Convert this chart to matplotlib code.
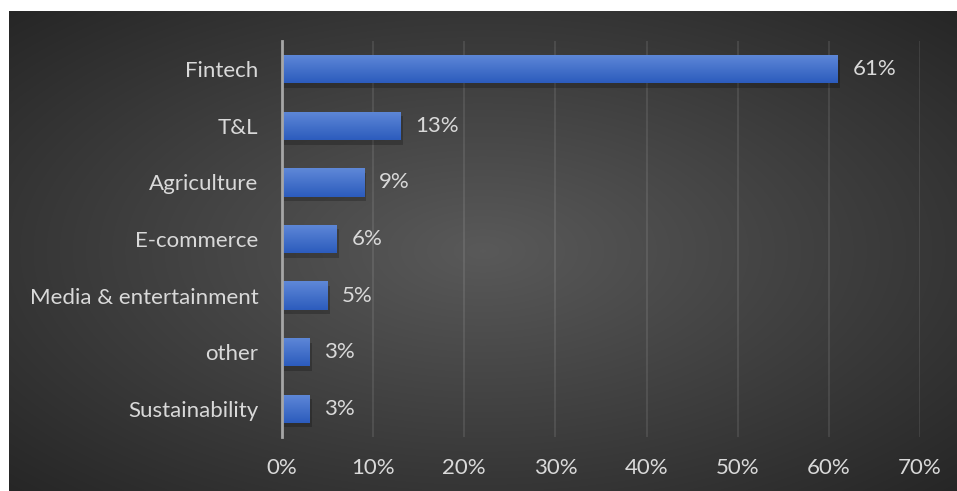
import numpy as np
import matplotlib.pyplot as plt
from matplotlib.patches import Rectangle

sectors = ['Fintech', 'T&L', 'Agriculture', 'E-commerce',
           'Media & entertainment', 'other', 'Sustainability']
shares = [61, 13, 9, 6, 5, 3, 3]
xticks = [0, 10, 20, 30, 40, 50, 60, 70]

plt.rcParams['font.family'] = ['Lato', 'DejaVu Sans']
txt = '#d9d9d9'
fs = 16

fig = plt.figure(figsize=(9.57, 4.91), dpi=100)
fig.patch.set_facecolor('white')

# dark radial backdrop
bg = fig.add_axes([9/957, 0, 948/957, 480/491])
yy, xx = np.mgrid[-1:1:300j, -1:1:600j]
r = np.sqrt(xx**2 + yy**2) / np.sqrt(2)
shade = 0.35 - 0.20 * r
bg.imshow(np.dstack([shade, shade, shade]), aspect='auto',
          extent=[0, 1, 0, 1], interpolation='bicubic')
bg.set_axis_off()

ax = fig.add_axes([282/957, 54/491, 638/957, 396/491])
ax.set_facecolor('none')
n = len(sectors)
ypos = np.arange(n)[::-1]
h = 0.5

# bar gradient: lighter top, darker bottom
grad = np.linspace(0, 1, 50).reshape(-1, 1)
top = np.array([0x5f, 0x88, 0xd8]) / 255
bot = np.array([0x2c, 0x5c, 0xbd]) / 255
gimg = (bot + (top - bot) * grad)[:, None, :].repeat(2, axis=1)

for y, v in zip(ypos, shares):
    # soft shadow
    ax.add_patch(Rectangle((0.25, y - h/2 - 0.08), v, h, color='black',
                           alpha=0.22, lw=0, zorder=2))
    rect = Rectangle((0, y - h/2), v, h, facecolor='none', lw=0, zorder=3)
    ax.add_patch(rect)
    im = ax.imshow(gimg, extent=[0, v, y - h/2, y + h/2], origin='lower',
                   aspect='auto', zorder=3, interpolation='bilinear')
    im.set_clip_path(rect)
    ax.text(v + 1.6, y, f'{v}%', va='center', ha='left', color=txt,
            fontsize=fs)

ax.set_aspect('auto')
ax.set_xlim(0, 70)
ax.set_ylim(-0.5, n - 0.5)

ax.set_xticks(xticks)
ax.set_xticklabels([f'{t}%' for t in xticks])
ax.set_yticks(ypos)
ax.set_yticklabels(sectors)
ax.tick_params(axis='both', length=0, colors=txt, labelsize=fs)
ax.tick_params(axis='x', pad=15)
ax.tick_params(axis='y', pad=17)
ax.grid(axis='x', color='white', alpha=0.1, lw=1.3, zorder=0)
ax.set_axisbelow(True)
for s in ['top', 'right', 'bottom']:
    ax.spines[s].set_visible(False)
ax.spines['left'].set_color('#a6a6a6')
ax.spines['left'].set_linewidth(2)
ax.spines['left'].set_zorder(4)

fig.savefig('out.png', dpi=100, facecolor=fig.get_facecolor())
